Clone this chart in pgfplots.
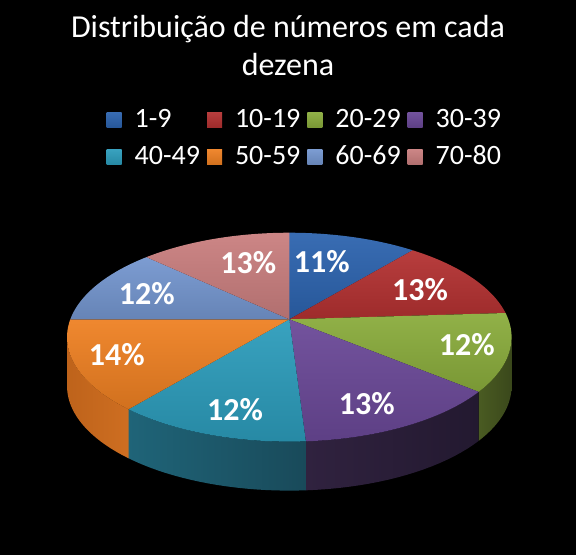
\documentclass[border=0pt]{standalone}
\usepackage{pgfplots}
\usepackage{pgfplotstable}
\pgfplotsset{compat=1.18}
\usepackage{fontspec}
\setmainfont{Carlito}

\definecolor{c0}{HTML}{2C63AE}\definecolor{sl0}{HTML}{1E4478}\definecolor{sr0}{HTML}{1E4478}
\definecolor{c1}{HTML}{B33131}\definecolor{sl1}{HTML}{7A2020}\definecolor{sr1}{HTML}{7A2020}
\definecolor{c2}{HTML}{8AAC3C}\definecolor{sl2}{HTML}{4A5B22}\definecolor{sr2}{HTML}{3A481B}
\definecolor{c3}{HTML}{6A4897}\definecolor{sl3}{HTML}{30223F}\definecolor{sr3}{HTML}{231930}
\definecolor{c4}{HTML}{2C9CBB}\definecolor{sl4}{HTML}{1F6478}\definecolor{sr4}{HTML}{194A5A}
\definecolor{c5}{HTML}{EE8022}\definecolor{sl5}{HTML}{BE631B}\definecolor{sr5}{HTML}{CE6E21}
\definecolor{c6}{HTML}{7496CF}\definecolor{sl6}{HTML}{4A6A9A}\definecolor{sr6}{HTML}{4A6A9A}
\definecolor{c7}{HTML}{C97E7E}\definecolor{sl7}{HTML}{8E5050}\definecolor{sr7}{HTML}{8E5050}

% value = percentage; lx, ly = label position (pixels)
\pgfplotstableread{
label value lx ly
1-9 11 321.7 261.7
10-19 13 420 290
20-29 12 466.7 345
30-39 13 366.7 403.3
40-49 12 235 410
50-59 14 116.7 355
60-69 12 146.7 294
70-80 13 248.3 262.7
}\datatable

\gdef\cum{0}
\foreach \i in {0,...,7}{%
  \pgfplotstablegetelem{\i}{value}\of\datatable
  \let\val\pgfplotsretval
  \expandafter\xdef\csname v\i\endcsname{\val}%
  \pgfmathsetmacro\sa{3.6*\cum}%
  \pgfmathsetmacro\sb{3.6*(\cum+\val)}%
  \pgfmathsetmacro\slo{max(\sa,99.8)}%
  \pgfmathsetmacro\shi{min(\sb,260.2)}%
  \pgfmathtruncatemacro\vis{\shi>\slo}%
  \expandafter\xdef\csname a\i\endcsname{\sa}%
  \expandafter\xdef\csname b\i\endcsname{\sb}%
  \expandafter\xdef\csname lo\i\endcsname{\slo}%
  \expandafter\xdef\csname hi\i\endcsname{\shi}%
  \expandafter\xdef\csname vis\i\endcsname{\vis}%
  \pgfmathsetmacro\nc{\cum+\val}\xdef\cum{\nc}%
  \pgfplotstablegetelem{\i}{label}\of\datatable
  \expandafter\xdef\csname l\i\endcsname{\pgfplotsretval}%
  \pgfplotstablegetelem{\i}{lx}\of\datatable
  \expandafter\xdef\csname x\i\endcsname{\pgfplotsretval}%
  \pgfplotstablegetelem{\i}{ly}\of\datatable
  \expandafter\xdef\csname y\i\endcsname{\pgfplotsretval}%
}

\begin{document}
\begin{tikzpicture}
\begin{axis}[
  width=576bp, height=555bp, scale only axis,
  xmin=0, xmax=576, ymin=0, ymax=555, y dir=reverse,
  hide axis,
  declare function={
    px(\q)=289.3+219*sin(\q)/(1+0.171*cos(\q));
    py(\q)=319.3-101.4*cos(\q)/(1+0.171*cos(\q));
    th(\s,\l,\h)=ifthenelse(\s<=20,\l+\s/20*(\h-\l),\h-(\s-20)/20*(\h-\l));
  },
  legend columns=4,
  legend cell align=left,
  legend style={at={(axis cs:106.7,109.5)}, anchor=north west, draw=none, fill=none,
    text=white, font=\fontsize{28bp}{30bp}\selectfont, inner sep=0pt, outer sep=0pt,
    row sep=16.5bp, nodes={inner sep=0pt, anchor=base west},
    /tikz/every even column/.append style={column sep=7bp},
    /tikz/every odd column/.append style={column sep=13bp}},
  legend image code/.code={\fill[#1] (0bp,0.5bp) rectangle (15bp,15.5bp);},
]
\fill[black] (rel axis cs:0,0) rectangle (rel axis cs:1,1);
% side walls
\pgfplotsinvokeforeach{0,...,7}{%
  \ifnum\csname vis#1\endcsname=1
  \addplot[draw=none, left color=sl#1, right color=sr#1, forget plot, variable=\s,
    samples at={0,1,...,20,20.001,21,22,...,40}]
    ({px(th(\s,\csname lo#1\endcsname,\csname hi#1\endcsname))},
     {py(th(\s,\csname lo#1\endcsname,\csname hi#1\endcsname))+49*(\s>20)}) -- cycle;
  \fi
}
% top faces
\pgfplotsinvokeforeach{0,...,7}{%
  \addplot[draw=none, top color=c#1!94!white, bottom color=c#1!88!black, variable=\t,
    domain={\csname a#1\endcsname}:{\csname b#1\endcsname}, samples=50]
    ({px(\t)},{py(\t)}) -- (289.3,319.3) -- cycle;
  \addlegendentry{\csname l#1\endcsname}
}
\pgfplotsinvokeforeach{0,...,7}{%
  \node[text=white, font=\bfseries\fontsize{32bp}{32bp}\selectfont, inner sep=0pt]
    at (\csname x#1\endcsname,\csname y#1\endcsname) {\csname v#1\endcsname\%};
}
\node[text=white, align=center, font=\fontsize{32bp}{38bp}\selectfont, anchor=north, inner sep=0pt]
  at (288,15) {Distribuição de números em cada\\dezena};
\end{axis}
\end{tikzpicture}
\end{document}
